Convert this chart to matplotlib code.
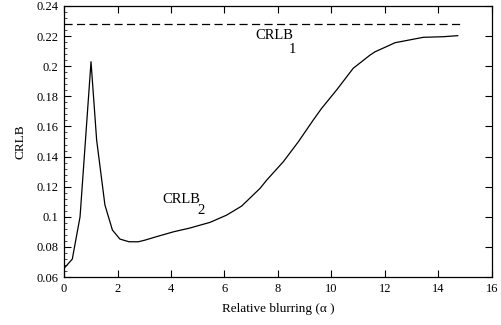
import numpy as np
import matplotlib.pyplot as plt
from matplotlib.ticker import AutoMinorLocator, FormatStrFormatter

plt.rcParams['font.family'] = ['Liberation Serif', 'DejaVu Serif']

# curve
alpha = [0.0, 0.31, 0.6, 1.01, 1.22, 1.53, 1.81, 2.09, 2.43, 2.78, 3.03,
         3.5, 4.09, 4.7, 5.46, 6.08, 6.64, 7.33, 7.58, 8.2, 8.76, 9.32,
         9.63, 10.19, 10.81, 11.44, 11.63, 12.19, 12.37, 13.43, 14.18, 14.72]
crlb2 = [0.0657, 0.0719, 0.100, 0.203, 0.151, 0.1078, 0.0912, 0.0852, 0.0834,
         0.0834, 0.0845, 0.0870, 0.0900, 0.0925, 0.0963, 0.1011, 0.1071, 0.1189,
         0.1244, 0.1366, 0.1498, 0.1643, 0.172, 0.1842, 0.1986, 0.2074, 0.2096,
         0.2141, 0.2156, 0.2192, 0.2196, 0.2203]
crlb1_x = [0.0, 14.8]
crlb1 = [0.228, 0.228]

xticks = [0, 2, 4, 6, 8, 10, 12, 14, 16]
yticks = [0.06, 0.08, 0.1, 0.12, 0.14, 0.16, 0.18, 0.2, 0.22, 0.24]

fig = plt.figure(figsize=(5.02, 3.25), dpi=100)
ax = fig.add_axes([64/502, 1 - 277/325, (492-64)/502, (277-6)/325])

ax.plot(alpha, crlb2, color='black', lw=0.9)
ax.plot(crlb1_x, crlb1, color='black', lw=0.9, dashes=(6.5, 3.5))

ax.set_xlim(0, 16)
ax.set_ylim(0.06, 0.24)
ax.set_xticks(xticks)
ax.set_yticks(yticks)
ax.yaxis.set_major_formatter(FormatStrFormatter('%g'))
ax.yaxis.set_minor_locator(AutoMinorLocator(5))
ax.tick_params(which='major', direction='in', length=5, width=0.8,
               top=True, right=True, labelsize=9, pad=4)
ax.tick_params(which='minor', direction='in', length=2, width=0.5,
               left=True, right=False, top=False, bottom=False)
for s in ax.spines.values():
    s.set_linewidth(0.9)

ax.set_xlabel('Relative blurring (\u03b1 )', fontsize=9.5, labelpad=6)
ax.set_ylabel('CRLB', fontsize=9.5, labelpad=7)

ax.text(7.14, 0.218, 'CRLB', fontsize=10.5)
ax.text(8.4, 0.2088, '1', fontsize=10.5)
ax.text(3.69, 0.109, 'CRLB', fontsize=10.5)
ax.text(4.97, 0.1018, '2', fontsize=10.5)

fig.savefig('out.png', dpi=100)
